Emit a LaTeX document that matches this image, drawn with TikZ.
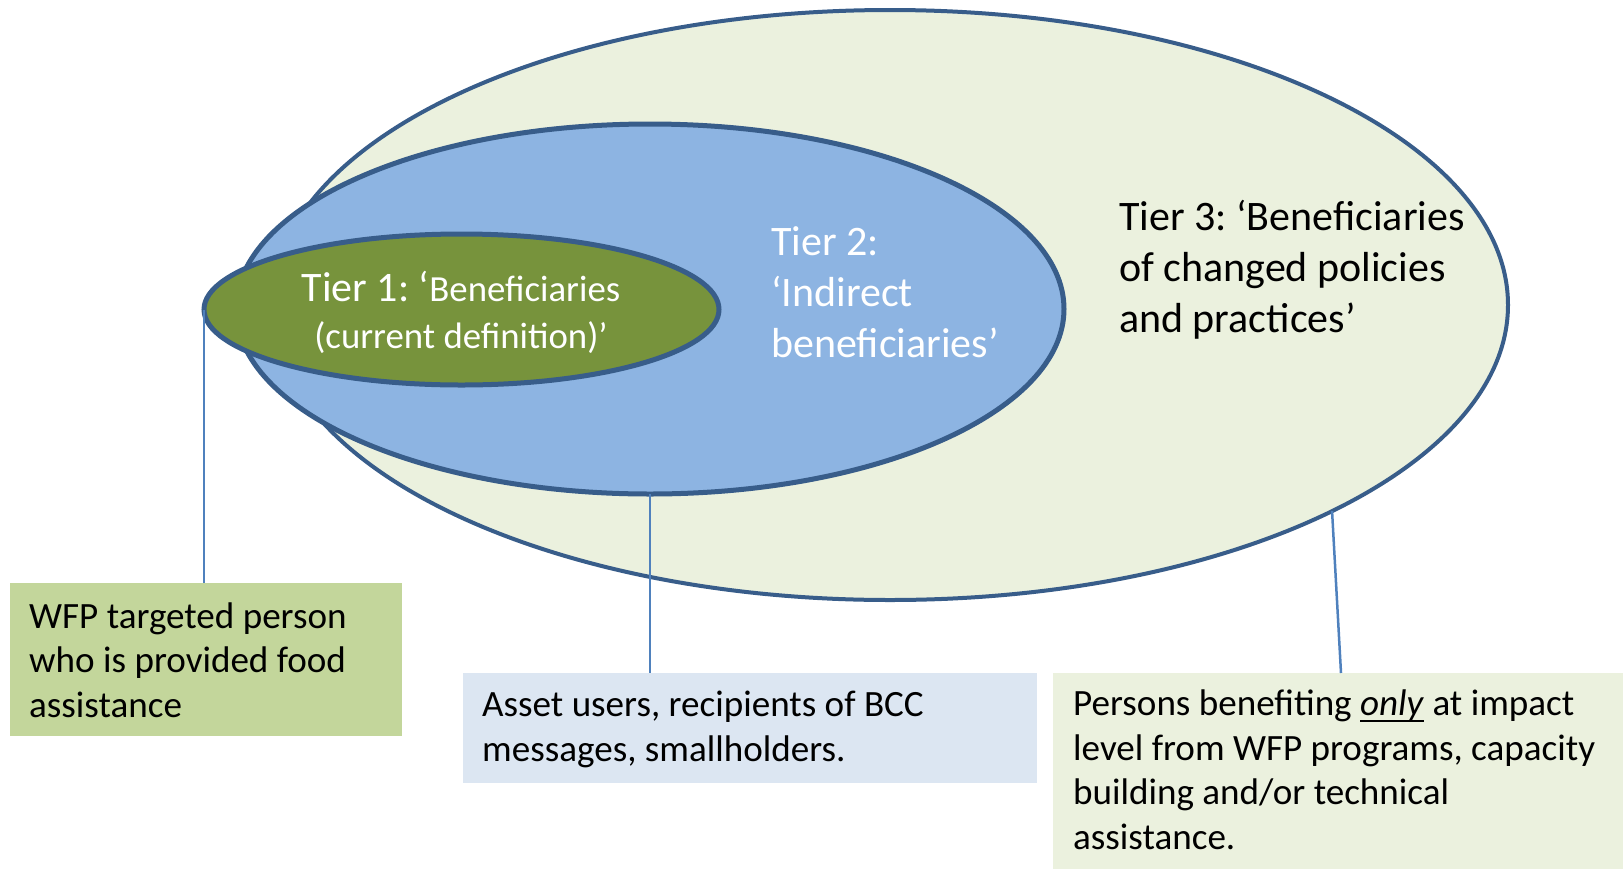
\documentclass[tikz,border=0pt]{standalone}
\usepackage{fontspec}
\setmainfont{Carlito}
\usetikzlibrary{shapes.geometric}

\definecolor{rimblue}{RGB}{56,93,138}
\definecolor{linkblue}{RGB}{79,129,189}
\definecolor{paleolive}{RGB}{235,241,222}
\definecolor{skyblue}{RGB}{141,180,226}
\definecolor{olive}{RGB}{119,147,60}
\definecolor{sage}{RGB}{195,214,155}
\definecolor{mist}{RGB}{220,230,242}

% italic word with a thin underline just under the baseline
\newcommand\ulitalic[1]{\setbox0\hbox{\textit{#1}}\rlap{\rule[-6pt]{\wd0}{2pt}}\box0\relax}

\tikzset{
  ring/.style={ellipse, draw=rimblue, inner sep=0pt, outer sep=0pt},
  notebox/.style={rectangle, inner sep=0pt, outer sep=0pt, anchor=north west},
  leader/.style={draw=linkblue, line width=2.5pt},
  boxtext/.style={inner sep=0pt, anchor=base west, align=left, text=black,
    font=\frenchspacing\fontsize{37.1}{44.5}\selectfont},
  tiertext/.style={inner sep=0pt, anchor=base west, align=left,
    font=\frenchspacing\fontsize{42}{51}\selectfont}
}

\begin{document}
\begin{tikzpicture}[x=1pt,y=-1pt]
\useasboundingbox (0,0) rectangle (1623,871);

% nested tiers
\node[ring, fill=paleolive, line width=4pt, minimum width=1236, minimum height=590] (outer) at (890,305) {};
\node[ring, fill=skyblue, line width=5pt, minimum width=828, minimum height=370] (blue) at (650,309) {};
\node[ring, fill=olive, line width=5pt, minimum width=515, minimum height=151] (green) at (461.5,309.5) {};

% tier labels (anchored at the baseline of their last line)
\node[inner sep=0pt, anchor=base, align=center, text=white,
      font=\frenchspacing\fontsize{36.8}{46.6}\selectfont] (tierone) at (461,348)
  {{\fontsize{42}{46.6}\selectfont Tier 1: ‘}Beneficiaries\\(current definition)’};
\node[tiertext, text=white] (tiertwo) at (771,357)
  {Tier 2:\\‘Indirect\\beneficiaries’};
\node[tiertext, text=black] (tierthree) at (1119,332)
  {Tier 3: ‘Beneficiaries\\of changed policies\\and practices’};

% description boxes
\node[notebox, fill=sage, minimum width=392, minimum height=153] (wfpbox) at (10,583) {};
\node[notebox, fill=mist, minimum width=574, minimum height=110] (assetbox) at (463,673) {};
\node[notebox, fill=paleolive, minimum width=570, minimum height=196] (impactbox) at (1053,673) {};

\node[boxtext] (wfptext) at (29,717)
  {WFP targeted person\\who is provided food\\assistance};
\node[boxtext] (assettext) at (482,761)
  {Asset users, recipients of BCC\\messages, smallholders.};
\node[boxtext] (impacttext) at (1073,849)
  {Persons benefiting \ulitalic{only} at impact\\level from WFP programs, capacity\\building and/or technical\\assistance.};

% leader lines
\coordinate (impactfoot) at (1341,673);
\draw[leader] (green.west) -- (green.west |- wfpbox.north);
\draw[leader] (blue.south) -- (blue.south |- assetbox.north);
\draw[leader] (outer.-25.9) -- (impactfoot);
\end{tikzpicture}
\end{document}
